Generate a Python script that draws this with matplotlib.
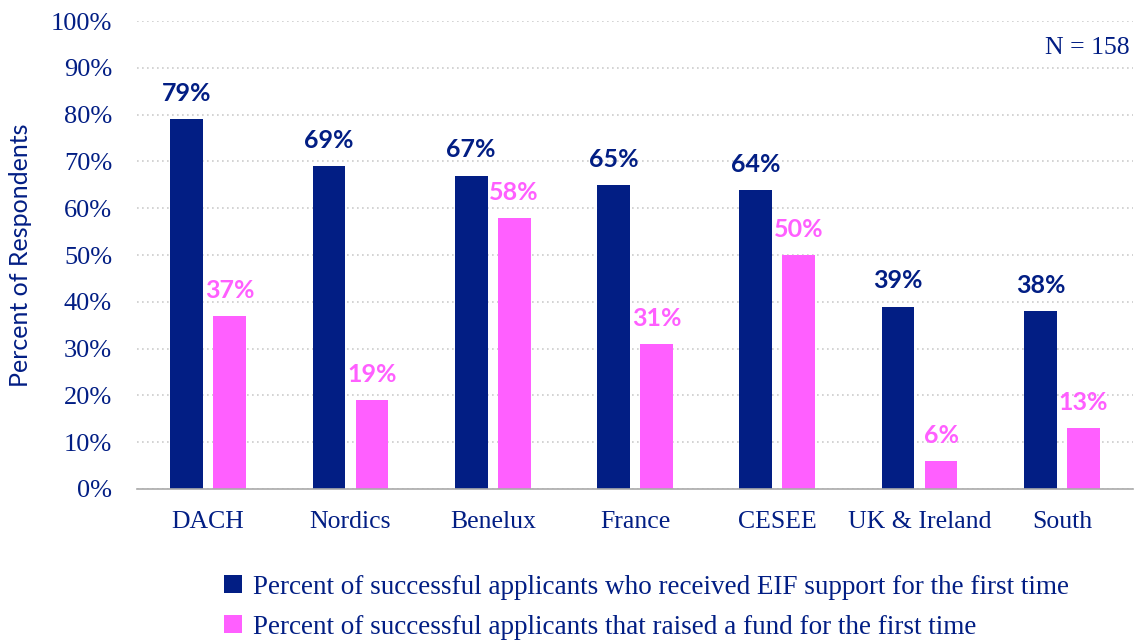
import numpy as np
import matplotlib.pyplot as plt

regions = ['DACH', 'Nordics', 'Benelux', 'France', 'CESEE', 'UK & Ireland', 'South']
eif_first = [79, 69, 67, 65, 64, 39, 38]
fund_first = [37, 19, 58, 31, 50, 6, 13]
series_names = ['Percent of successful applicants who received EIF support for the first time',
                'Percent of successful applicants that raised a fund for the first time']

NAVY = '#021e84'
PINK = '#ff5fff'


def main():
    fig = plt.figure(figsize=(11.37, 6.4), dpi=100)
    ax = fig.add_axes([0.1205, 0.236, 0.876, 0.731])

    x = np.arange(len(regions))
    w = 0.23
    off = 0.151
    b1 = ax.bar(x - off, eif_first, w, color=NAVY, zorder=3)
    b2 = ax.bar(x + off, fund_first, w, color=PINK, zorder=3)

    for rect, v in zip(b1, eif_first):
        ax.text(rect.get_x() + rect.get_width() / 2, v + 3.0, f'{v}%', ha='center', va='bottom',
                fontsize=18, fontweight='bold', color=NAVY, family='Lato')
    for rect, v in zip(b2, fund_first):
        ax.text(rect.get_x() + rect.get_width() / 2, v + 3.0, f'{v}%', ha='center', va='bottom',
                fontsize=18, fontweight='bold', color=PINK, family='Lato')

    ax.set_xlim(-0.5, len(regions) - 0.5)
    ax.set_ylim(0, 100)
    ax.set_yticks(np.arange(0, 101, 10))
    ax.set_yticklabels([f'{t}%' for t in range(0, 101, 10)], family='Liberation Serif',
                       fontsize=19, color=NAVY)
    ax.set_xticks(x)
    ax.set_xticklabels(regions, family='Liberation Serif', fontsize=18.5, color=NAVY)
    ax.tick_params(axis='x', length=0, pad=16)
    ax.tick_params(axis='y', length=0, pad=18)

    ax.grid(axis='y', linestyle=(0, (1, 2)), color='#cccccc', linewidth=1.2, zorder=0)
    for s in ['top', 'right', 'left']:
        ax.spines[s].set_visible(False)
    ax.spines['bottom'].set_color('#aaaaaa')
    ax.spines['bottom'].set_linewidth(1.2)
    ax.spines['bottom'].set_zorder(4)

    ax.set_ylabel('Percent of Respondents', family='Lato', fontsize=18, color=NAVY)
    ax.yaxis.set_label_coords(-0.105, 0.5)

    ax.text(0.997, 0.943, 'N = 158', transform=ax.transAxes, ha='right', va='center',
            family='Liberation Serif', fontsize=18.5, color=NAVY)

    leg = fig.legend([b1, b2], series_names, loc='upper left', bbox_to_anchor=(0.176, 0.14),
                     frameon=False, handlelength=0.65, handleheight=0.65, handletextpad=0.4,
                     labelspacing=0.55, prop={'family': 'Liberation Serif', 'size': 19.5})
    for t in leg.get_texts():
        t.set_color(NAVY)

    fig.savefig('out.png', dpi=100)


if __name__ == "__main__":
    main()
